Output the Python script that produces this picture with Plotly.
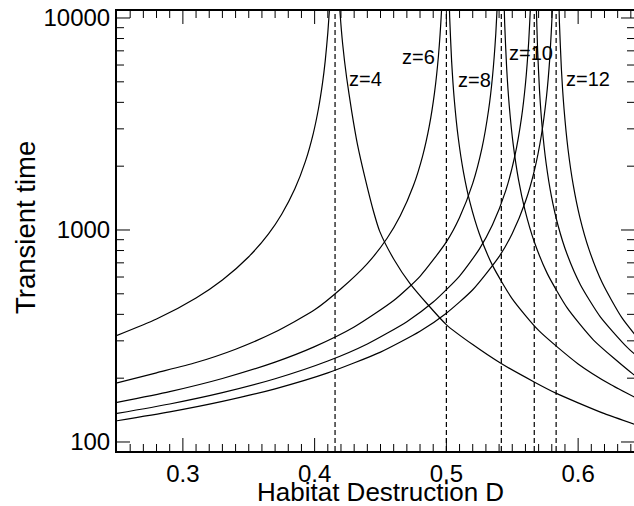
import math
import plotly.graph_objects as go

# ---- data ----
z_labels = ["z=4", "z=6", "z=8", "z=10", "z=12"]
critical_D = [0.4155, 0.5, 0.5417, 0.5667, 0.5833]

# left branches (D below the critical value)
z4_left_D = [0.25, 0.28, 0.31, 0.33, 0.35, 0.365, 0.375, 0.385, 0.393, 0.399, 0.403, 0.406, 0.408, 0.410, 0.4115, 0.4128]
z4_left_T = [318, 380, 478, 581, 748, 959, 1187, 1564, 2106, 2859, 3762, 4939, 6246, 8504, 11680, 17285]

z6_left_D = [0.25, 0.28, 0.31, 0.34, 0.37, 0.40, 0.42, 0.44, 0.455, 0.465, 0.475, 0.482, 0.487, 0.491, 0.494, 0.4965, 0.498]
z6_left_T = [190, 212, 237, 274, 330, 420, 528, 694, 914, 1167, 1621, 2239, 3089, 4448, 6656, 11388, 19906]

z8_left_D = [0.25, 0.29, 0.33, 0.37, 0.40, 0.43, 0.46, 0.48, 0.50, 0.51, 0.52, 0.527, 0.532, 0.535, 0.5375, 0.539, 0.540]
z8_left_T = [153.6, 172.8, 199.3, 238.1, 281.7, 348.5, 464.6, 604.6, 878.9, 1145.8, 1658.9, 2433, 3671, 5300, 8435, 13103, 20792]

z10_left_D = [0.25, 0.29, 0.33, 0.37, 0.41, 0.44, 0.47, 0.49, 0.51, 0.525, 0.535, 0.545, 0.552, 0.557, 0.560, 0.5625, 0.564, 0.565]
z10_left_T = [136.3, 151.1, 170.9, 198.8, 241, 290.1, 369.6, 457.2, 606.5, 812.6, 1058, 1530, 2243, 3382, 4882, 7767, 12064, 19140]

z12_left_D = [0.25, 0.29, 0.33, 0.37, 0.41, 0.45, 0.48, 0.50, 0.52, 0.54, 0.55, 0.56, 0.567, 0.572, 0.576, 0.5785, 0.5805, 0.5818]
z12_left_T = [125.9, 138.6, 155.3, 178.2, 211.8, 265.4, 332.9, 404.9, 522.4, 748.5, 963.3, 1363, 1934, 2775, 4277, 6487, 11097, 20686]

# right branches (D above the critical value)
z4_right_D = [0.4178, 0.4192, 0.4213, 0.4243, 0.4281, 0.4325, 0.4382, 0.4446, 0.4494, 0.4600, 0.4724, 0.5001, 0.5200, 0.5413, 0.5666, 0.5831, 0.6000, 0.6200, 0.6500]
z4_right_T = [15500, 10790, 7516, 5224, 3639, 2535, 1765, 1229, 985, 730, 559, 357, 288, 235, 192, 170, 153, 136, 117]

z6_right_D = [0.5015, 0.5025, 0.504, 0.506, 0.509, 0.513, 0.518, 0.525, 0.535, 0.55, 0.57, 0.60, 0.625, 0.65]
z6_right_T = [16950, 10051, 6226, 4117, 2723, 1871, 1342, 960, 681, 473.5, 336, 233.5, 186, 154.4]

z8_right_D = [0.5432, 0.5442, 0.5457, 0.5477, 0.5507, 0.5547, 0.5597, 0.5667, 0.5767, 0.5917, 0.6117, 0.6417, 0.6517]
z8_right_T = [16293, 9581, 5887, 3867, 2540, 1734, 1238, 880, 621, 429, 302.6, 209, 189.4]

z10_right_D = [0.5677, 0.5682, 0.5692, 0.5707, 0.5727, 0.5757, 0.5797, 0.5847, 0.5917, 0.6017, 0.6167, 0.6367, 0.6517]
z10_right_T = [17423, 11751, 7159, 4537, 3061, 2064, 1445, 1053, 765.6, 552, 390.6, 281.8, 233.3]

z12_right_D = [0.5848, 0.5858, 0.5873, 0.5893, 0.5923, 0.5963, 0.6013, 0.6083, 0.6183, 0.6333, 0.6533]
z12_right_T = [16400, 9494, 5741, 3719, 2410, 1627, 1148, 808, 563.6, 384.8, 268.5]

# tick values
x_major_ticks = [0.3, 0.4, 0.5, 0.6]
x_minor_ticks = [round(0.25 + 0.01 * i, 2) for i in range(40)]
y_major_ticks = [100, 1000, 10000]
y_minor_ticks = [m * 10 ** k for k in (2, 3) for m in range(2, 10)]

# ---- figure ----
FONT = "Liberation Sans, Arial, Helvetica, sans-serif"
X_RANGE = [0.25, 0.6424]
Y_RANGE = [1.9575, 4.033]
PLOT_W, PLOT_H = 517, 440   # plot area in pixels (for tick lengths)

fig = go.Figure()

branches = [
    (z4_left_D, z4_left_T), (z6_left_D, z6_left_T), (z8_left_D, z8_left_T),
    (z10_left_D, z10_left_T), (z12_left_D, z12_left_T),
    (z4_right_D, z4_right_T), (z6_right_D, z6_right_T), (z8_right_D, z8_right_T),
    (z10_right_D, z10_right_T), (z12_right_D, z12_right_T),
]
for xs, ys in branches:
    fig.add_trace(go.Scatter(
        x=xs, y=ys, mode="lines",
        line=dict(color="black", width=1.2, shape="spline", smoothing=0.6),
        showlegend=False, hoverinfo="skip"))

for dc in critical_D:
    fig.add_vline(x=dc, line=dict(color="black", width=1.2, dash="5px,3px"))

# ---- inward tick marks on all four sides ----
tick_line = dict(color="black", width=1)
def x_tick(v, length_px):
    h = length_px / PLOT_H
    fig.add_shape(type="line", xref="x", yref="y domain", x0=v, x1=v, y0=0, y1=h, line=tick_line)
    fig.add_shape(type="line", xref="x", yref="y domain", x0=v, x1=v, y0=1 - h, y1=1, line=tick_line)

def y_tick(v, length_px):
    f = (math.log10(v) - Y_RANGE[0]) / (Y_RANGE[1] - Y_RANGE[0])
    w = length_px / PLOT_W
    fig.add_shape(type="line", xref="x domain", yref="y domain", x0=0, x1=w, y0=f, y1=f, line=tick_line)
    fig.add_shape(type="line", xref="x domain", yref="y domain", x0=1 - w, x1=1, y0=f, y1=f, line=tick_line)

for v in x_minor_ticks:
    if X_RANGE[0] < v < X_RANGE[1] and all(abs(v - m) > 1e-9 for m in x_major_ticks):
        x_tick(v, 7)
for v in x_major_ticks:
    x_tick(v, 13)
for v in y_minor_ticks:
    y_tick(v, 7)
for v in y_major_ticks:
    y_tick(v, 13)

# curve labels (anchor positions in data units)
label_pos = {
    "z=4": (0.4388, 5150),
    "z=6": (0.4790, 6546),
    "z=8": (0.5215, 5099),
    "z=10": (0.5641, 6839),
    "z=12": (0.6074, 5153),
}
for lab in z_labels:
    lx, ly = label_pos[lab]
    fig.add_annotation(x=lx, y=math.log10(ly), xref="x", yref="y", text=lab, showarrow=False,
                       font=dict(family=FONT, size=20, color="black"),
                       xanchor="center", yanchor="middle")

# axis titles
fig.add_annotation(text="Habitat Destruction D", xref="paper", yref="paper",
                   x=(380 - 117) / PLOT_W, y=-(491.5 - 451) / PLOT_H,
                   xanchor="center", yanchor="middle", showarrow=False,
                   font=dict(family=FONT, size=26, color="black"))
fig.add_annotation(text="Transient time", xref="paper", yref="paper",
                   x=-(117 - 25) / PLOT_W, y=(451 - 228) / PLOT_H, textangle=-90,
                   xanchor="center", yanchor="middle", showarrow=False,
                   font=dict(family=FONT, size=27.5, color="black"))

fig.update_layout(
    template="none",
    width=634, height=506,
    margin=dict(l=117, r=0, t=11, b=55),
    paper_bgcolor="white", plot_bgcolor="white",
    font=dict(family=FONT, color="black"),
    showlegend=False,
    xaxis=dict(
        range=X_RANGE,
        showline=True, linecolor="black", linewidth=2, mirror=True,
        tickmode="array", tickvals=x_major_ticks, tickformat=".1f",
        ticks="", tickfont=dict(size=24, family=FONT, color="black"),
        showgrid=False, zeroline=False,
    ),
    yaxis=dict(
        type="log", range=Y_RANGE,
        showline=True, linecolor="black", linewidth=2, mirror=True,
        tickmode="array", tickvals=y_major_ticks, ticktext=[str(v) for v in y_major_ticks],
        ticks="", tickfont=dict(size=24, family=FONT, color="black"),
        showgrid=False, zeroline=False,
    ),
)

fig.write_html("out.html", config={"displayModeBar": False})
